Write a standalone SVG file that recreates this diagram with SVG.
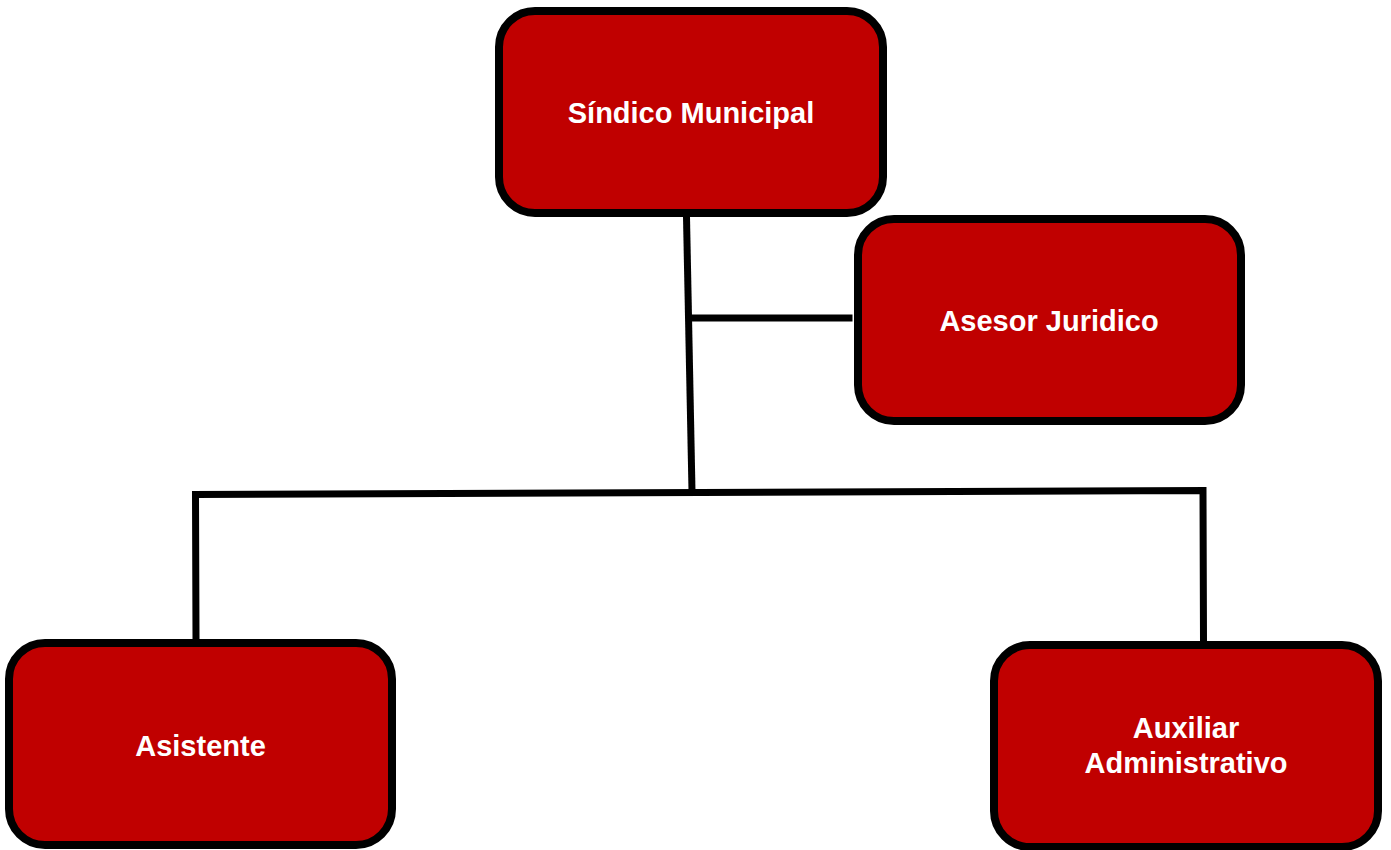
<svg xmlns="http://www.w3.org/2000/svg" width="1391" height="850" viewBox="0 0 1391 850">
<style>
.box{fill:#c00000;stroke:#000;stroke-width:8}
.lbl{fill:#fff;font-family:"Liberation Sans",Arial,sans-serif;font-weight:bold;font-size:29px;text-anchor:middle}
.con{stroke:#000;stroke-width:7;fill:none;stroke-linecap:square}
</style>
<rect width="1391" height="850" fill="#fff"/>
<g id="connectors">
<line class="con" x1="686.5" y1="217" x2="692" y2="491"/>
<line class="con" x1="692" y1="318" x2="849" y2="318"/>
<polyline class="con" points="196,639 195.5,494.5 1203,490.5 1203.5,641"/>
</g>
<g id="sindico">
<rect class="box" x="499" y="11" width="384" height="202" rx="36"/>
<text class="lbl" x="691" y="123">Síndico Municipal</text>
</g>
<g id="asesor">
<rect class="box" x="858" y="219" width="383" height="202" rx="36"/>
<text class="lbl" x="1049" y="331">Asesor Juridico</text>
</g>
<g id="asistente">
<rect class="box" x="9" y="643" width="383" height="202" rx="36"/>
<text class="lbl" x="200.5" y="756">Asistente</text>
</g>
<g id="auxiliar">
<rect class="box" x="994" y="645" width="384" height="202" rx="36"/>
<text class="lbl" x="1186" y="738">Auxiliar</text>
<text class="lbl" x="1186" y="773">Administrativo</text>
</g>
</svg>
